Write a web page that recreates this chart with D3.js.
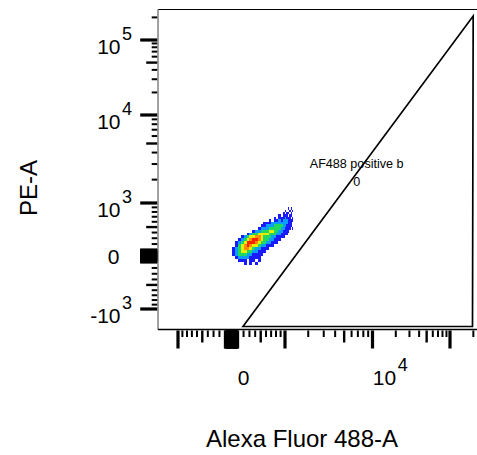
<!DOCTYPE html>
<html><head><meta charset="utf-8">
<script src="https://cdn.jsdelivr.net/npm/d3@7"></script>
<style>
html,body{margin:0;padding:0;background:#fff;}
svg{display:block;font-family:"Liberation Sans",Arial,Helvetica,sans-serif;}
</style>
</head><body>
<svg id="chart" width="477" height="455"></svg>
<script>
// ---------------- data ----------------
const decadeTicks = [-1000, 0, 1000, 10000, 100000];
const nearZeroTicks = [-100,-90,-80,-70,-60,-50,-40,-30,-20,-10,10,20,30,40,50,60,70,80,90,100];
const mediumTicks = [-500, 500, 5000, 50000];
const minorTicks = [-900,-800,-700,-600,-400,-300,-200,200,300,400,600,700,800,900,
  2000,3000,4000,6000,7000,8000,9000,20000,30000,40000,60000,70000,80000,90000,200000];
const xTickLabels = [{v:0, base:"0", exp:""}, {v:10000, base:"10", exp:"4"}];
const yTickLabels = [{v:100000, base:"10", exp:"5"}, {v:10000, base:"10", exp:"4"},
  {v:1000, base:"10", exp:"3"}, {v:0, base:"0", exp:""}, {v:-1000, base:"-10", exp:"3"}];
const xTitle = "Alexa Fluor 488-A";
const yTitle = "PE-A";
const gateName = "AF488 positive b";
const gateCount = "0";
const gateVertices = [[190, -1460], [199000, 209000], [195000, -1460]];
const gateLabelAt = [6800, 3000];
// pseudo-colour density (levels 0-6) on a grid of 50-unit bins, rows listed top to bottom
const densityXStart = 0, densityXStep = 50;
const densityYStart = -150, densityYStep = 50;
const densityRows = [
  "00000000000000000000001010",
  "00000000000000000000100101",
  "00000000000000000001011010",
  "00000000000000000101110110",
  "00000000000000010111211101",
  "00000000000001011212221111",
  "00000000000111222222221110",
  "00000000001122233332211110",
  "00000000012223333322111101",
  "00000001223334433221111000",
  "00000123344443332211110000",
  "00012344554333221111000000",
  "00123456654332211100000000",
  "01234666543322111000000000",
  "01345654432211100000000000",
  "12345543221110000000000000",
  "12344332211100000000000000",
  "12333221111000000000000000",
  "01222211110000000000000000",
  "00111011010000000000000000",
  "00001010100000000000000000"
];
const densityColors = ["none","#1a1aff","#0a9cff","#1fd860","#e6ee00","#ff8c00","#ff2000"];

// ---------------- layout ----------------
const plot = {left:158, top:9.5, bottom:329.5, right:484};
const T = v => Math.asinh(v / 1000);
const xs = d3.scaleLinear().domain(decadeTicks.map(T)).range([178, 231.5, 285, 372.5, 450]);
const ys = d3.scaleLinear().domain(decadeTicks.map(T)).range([309, 256, 203, 115, 40]);
const x = v => xs(T(v));
const y = v => ys(T(v));
const colour = d3.scaleOrdinal().domain(d3.range(densityColors.length)).range(densityColors);

const svg = d3.select("#chart");
svg.append("rect").attr("width",477).attr("height",455).attr("fill","#fff");

svg.append("clipPath").attr("id","pc").append("rect")
  .attr("x",plot.left).attr("y",plot.top).attr("width",plot.right-plot.left).attr("height",plot.bottom-plot.top);

// density cells
const cells = [];
const nR = densityRows.length;
densityRows.forEach((row, r) => {
  const j = nR - 1 - r;
  row.split("").forEach((ch, i) => {
    const lvl = +ch;
    if (lvl > 0) cells.push({x0: densityXStart + i*densityXStep, y0: densityYStart + j*densityYStep, lvl});
  });
});
svg.append("g").attr("clip-path","url(#pc)").selectAll("rect").data(cells).join("rect")
  .attr("x", d => x(d.x0))
  .attr("width", d => x(d.x0 + densityXStep) - x(d.x0))
  .attr("y", d => y(d.y0 + densityYStep))
  .attr("height", d => y(d.y0) - y(d.y0 + densityYStep))
  .attr("fill", d => colour(d.lvl))
  .attr("shape-rendering","crispEdges");

// frame
svg.append("line").attr("x1",plot.left).attr("x2",plot.right).attr("y1",plot.top).attr("y2",plot.top)
  .attr("stroke","#000").attr("stroke-width",1.2);
svg.append("line").attr("x1",plot.left).attr("x2",plot.left).attr("y1",plot.top).attr("y2",plot.bottom)
  .attr("stroke","#8a8a8a").attr("stroke-width",1.6);
svg.append("line").attr("x1",plot.left).attr("x2",plot.right).attr("y1",plot.bottom).attr("y2",plot.bottom)
  .attr("stroke","#000").attr("stroke-width",1.6);

// gate
svg.append("path").attr("clip-path","url(#pc)")
  .attr("d", d3.line().x(d => x(d[0])).y(d => y(d[1]))(gateVertices) + "Z")
  .attr("fill","none").attr("stroke","#000").attr("stroke-width",1.7).attr("stroke-linejoin","miter");
svg.append("text").attr("x", x(gateLabelAt[0])).attr("y", y(gateLabelAt[1]) + 3.5)
  .attr("text-anchor","middle").attr("font-size",12.6).text(gateName);
svg.append("text").attr("x", x(gateLabelAt[0])).attr("y", y(gateLabelAt[1]) + 21.5)
  .attr("text-anchor","middle").attr("font-size",12.6).text(gateCount);

// ticks
const tickSets = [
  {vals: decadeTicks, len: 18, w: 3.2},
  {vals: nearZeroTicks, len: 18, w: 3.2},
  {vals: mediumTicks, len: 12, w: 2.4},
  {vals: minorTicks, len: 6.5, w: 2}
];
const xIn = v => x(v) >= plot.left && x(v) <= 477;
const yIn = v => y(v) >= plot.top && y(v) <= plot.bottom;
const gx = svg.append("g");
const gy = svg.append("g");
tickSets.forEach(s => {
  gx.selectAll(null).data(s.vals.filter(xIn)).join("line")
    .attr("x1", d => x(d)).attr("x2", d => x(d))
    .attr("y1", plot.bottom + 1).attr("y2", plot.bottom + 1 + s.len)
    .attr("stroke","#000").attr("stroke-width", s.w);
  gy.selectAll(null).data(s.vals.filter(yIn)).join("line")
    .attr("y1", d => y(d)).attr("y2", d => y(d))
    .attr("x1", plot.left - 0.8).attr("x2", plot.left - 0.8 - (s.len - 1))
    .attr("stroke","#000").attr("stroke-width", s.w);
});

// x tick labels: base text centred a little right of its tick, exponent after it
const xl = svg.append("g").attr("font-size",21);
xTickLabels.forEach(t => {
  const cx = x(t.v) + 12;
  xl.append("text").attr("x", cx).attr("y", 385).attr("text-anchor","middle").text(t.base);
  if (t.exp) {
    const w = 21 * 0.556 * t.base.length;
    xl.append("text").attr("x", cx + w / 2 + 1.5).attr("y", 370.5).attr("font-size",18).text(t.exp);
  }
});
// y tick labels: base text right-aligned, exponent after it
const yl = svg.append("g").attr("font-size",21);
yTickLabels.forEach(t => {
  if (t.exp) {
    yl.append("text").attr("x",120.5).attr("y", y(t.v) + 14).attr("text-anchor","end").text(t.base);
    yl.append("text").attr("x",122).attr("y", y(t.v)).attr("font-size",18).text(t.exp);
  } else {
    yl.append("text").attr("x",119.5).attr("y", y(t.v) + 7.5).attr("text-anchor","end").text(t.base);
  }
});

// axis titles
svg.append("text").attr("x",302).attr("y",447).attr("text-anchor","middle").attr("font-size",24).text(xTitle);
svg.append("text").attr("transform","translate(37,188) rotate(-90)").attr("text-anchor","middle")
  .attr("font-size",24).text(yTitle);
</script>
</body></html>
